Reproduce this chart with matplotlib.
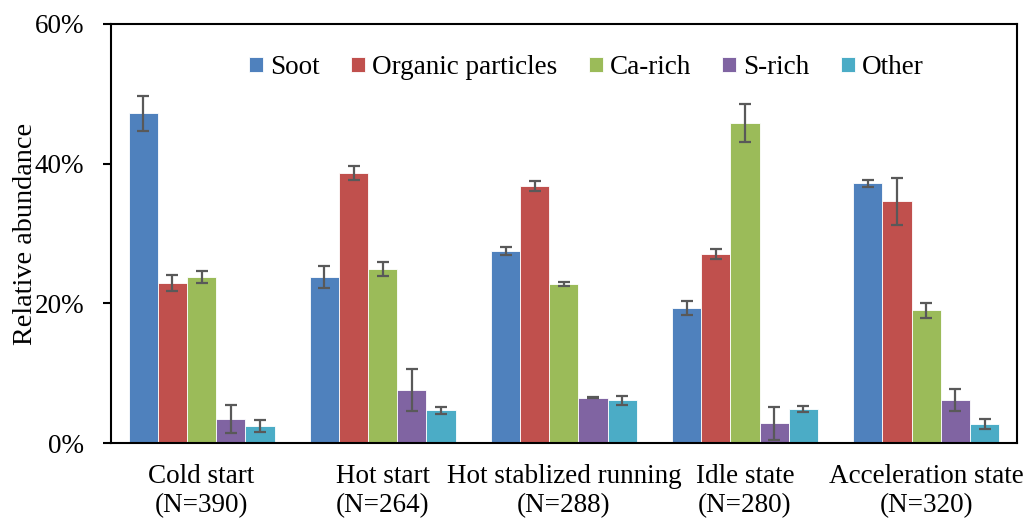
import matplotlib
matplotlib.use("Agg")
import matplotlib.pyplot as plt
import numpy as np

categories = ["Cold start\n(N=390)", "Hot start\n(N=264)", "Hot stablized running\n(N=288)",
              "Idle state\n(N=280)", "Acceleration state\n(N=320)"]
series = ["Soot", "Organic particles", "Ca-rich", "S-rich", "Other"]
colors = ["#4F81BD", "#C0504D", "#9BBB59", "#8064A2", "#4BACC6"]

soot = [47.2, 23.8, 27.5, 19.3, 37.2]
organic = [22.9, 38.7, 36.8, 27.1, 34.6]
ca_rich = [23.8, 24.9, 22.8, 45.8, 19.0]
s_rich = [3.4, 7.6, 6.5, 2.8, 6.2]
other = [2.4, 4.7, 6.1, 4.9, 2.7]

soot_err = [2.5, 1.55, 0.55, 1.0, 0.5]
organic_err = [1.1, 1.0, 0.75, 0.7, 3.4]
ca_err = [0.9, 1.0, 0.3, 2.7, 1.05]
s_err = [2.0, 3.0, 0.1, 2.4, 1.55]
other_err = [0.85, 0.5, 0.7, 0.45, 0.7]

values = [soot, organic, ca_rich, s_rich, other]
errors = [soot_err, organic_err, ca_err, s_err, other_err]

plt.rcParams['font.family'] = ['Liberation Serif', 'DejaVu Serif']
FS = 19.5

fig = plt.figure(figsize=(10.25, 5.2), dpi=100)
ax = fig.add_axes([0.1083, 0.148, 0.8837, 0.806])

x = np.arange(len(categories))
w = 0.161
for i, (name, vals, errs, c) in enumerate(zip(series, values, errors, colors)):
    pos = x + (i - 2) * w
    ax.bar(pos, vals, width=w, color=c, edgecolor='white', linewidth=0.6, label=name,
           yerr=errs, error_kw=dict(ecolor='#595959', elinewidth=1.6, capsize=4.5, capthick=1.6))

ax.set_xlim(-0.5, 4.5)
ax.set_ylim(0, 60)
ax.set_yticks([0, 20, 40, 60])
ax.set_yticklabels(["0%", "20%", "40%", "60%"])
ax.set_xticks(x)
ax.set_xticklabels(categories, linespacing=1.22)
ax.tick_params(axis='x', length=0, pad=15, labelsize=FS)
ax.tick_params(axis='y', direction='out', length=5.5, width=1.5, pad=14, labelsize=FS)
for s in ax.spines.values():
    s.set_linewidth(1.5)
    s.set_color('black')
ax.set_ylabel("Relative abundance", fontsize=20.3, labelpad=-3)

ax.legend(loc='center', bbox_to_anchor=(0.525, 0.896), ncol=5, frameon=False, fontsize=FS,
          handlelength=0.52, handleheight=0.52, handletextpad=0.26, columnspacing=1.15,
          borderaxespad=0, borderpad=0)

fig.savefig("out.png", dpi=100)
